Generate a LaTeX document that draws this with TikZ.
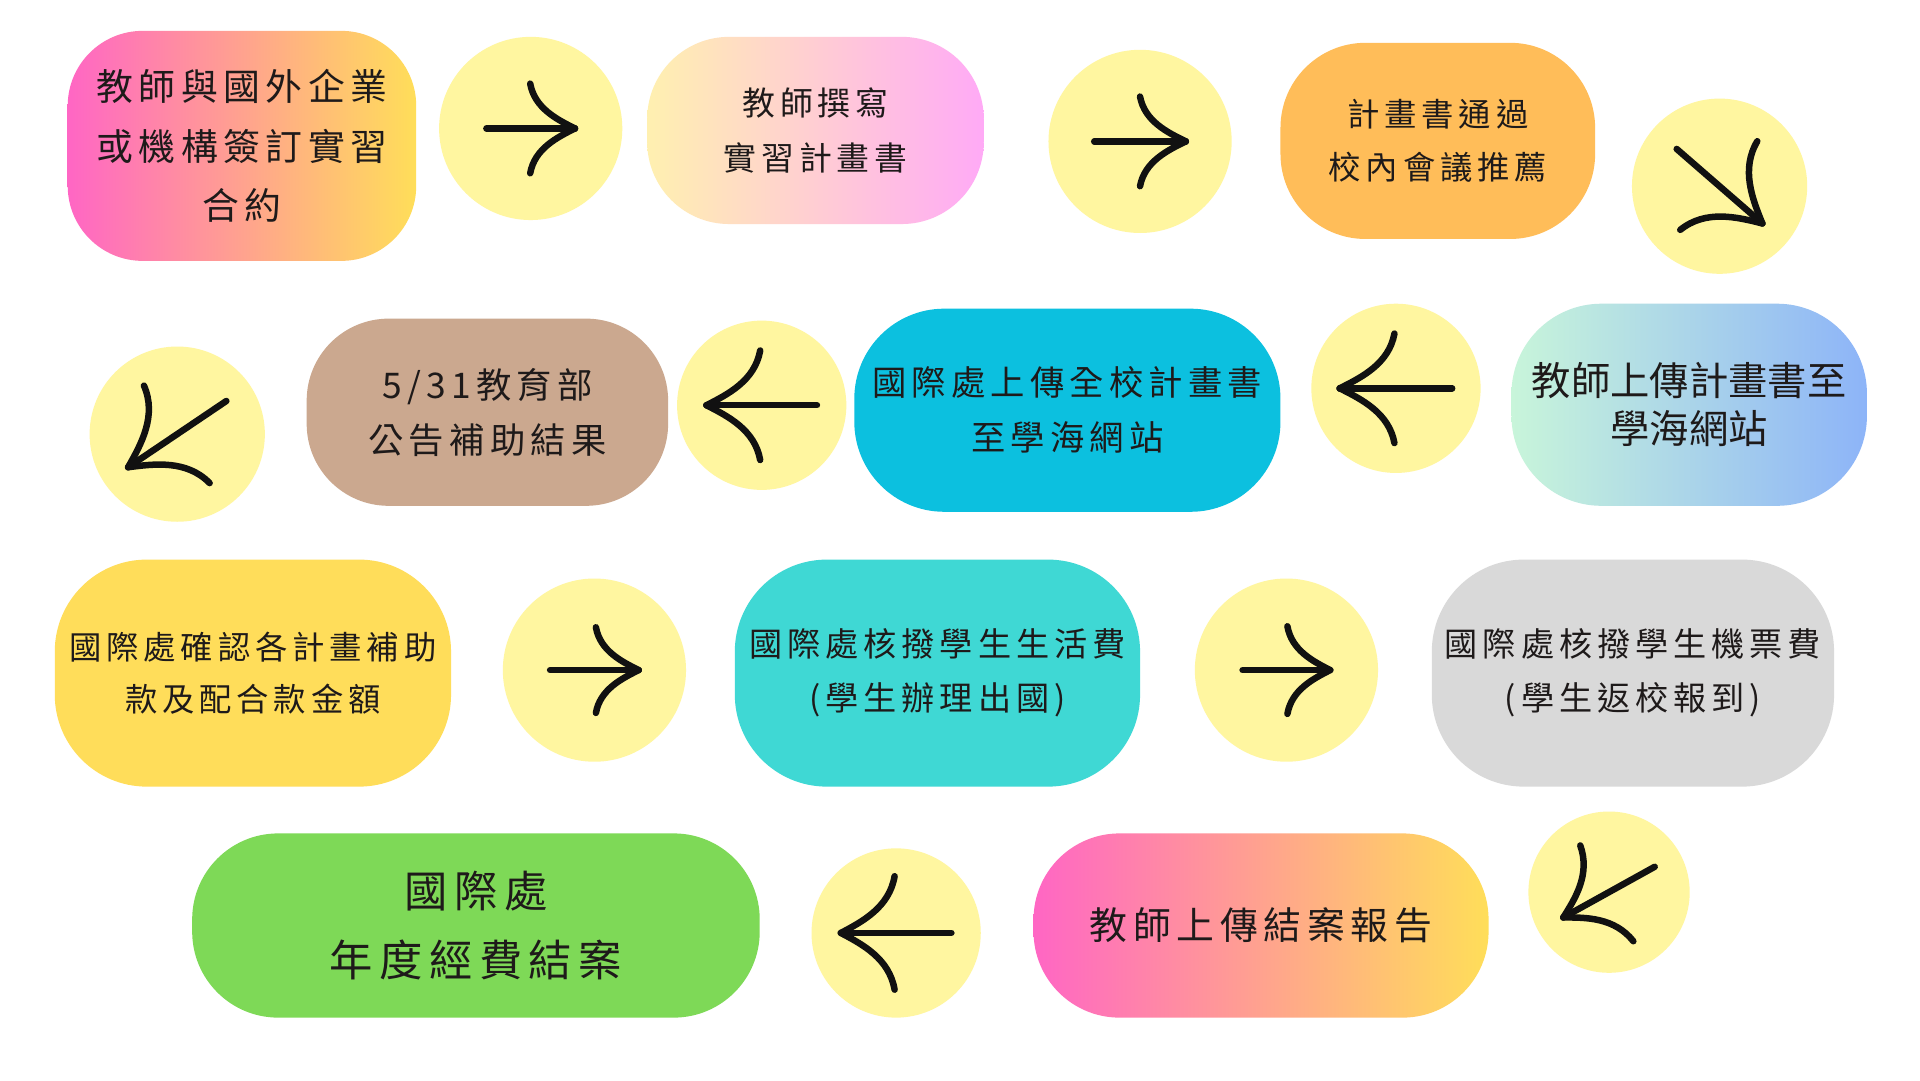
\documentclass[tikz,border=0pt]{standalone}
\usepackage{fontspec}
\setmainfont{Noto Sans CJK TC}
\newfontfamily\cjkls[LetterSpace=15]{Noto Sans CJK TC}
\newfontfamily\cjkplain{Noto Sans CJK TC}
\definecolor{textdark}{HTML}{1E1A1A}
\definecolor{circfill}{HTML}{FFF6A0}
\definecolor{arrowink}{HTML}{111111}
\definecolor{pinkA}{HTML}{FF66C4}
\definecolor{yellowA}{HTML}{FFDE59}
\definecolor{creamB}{HTML}{FFF0B0}
\definecolor{lilacB}{HTML}{FFAAF6}
\definecolor{mintC}{HTML}{C8F5DA}
\definecolor{blueC}{HTML}{8DB4F8}
\definecolor{orangeD}{HTML}{FFBD59}
\definecolor{tanE}{HTML}{CBA88F}
\definecolor{cyanF}{HTML}{0CC0DF}
\definecolor{yellowG}{HTML}{FFDD5A}
\definecolor{turqH}{HTML}{3FD8D4}
\definecolor{grayI}{HTML}{D9D9D9}
\definecolor{greenJ}{HTML}{7ED957}
\tikzset{
  flowbox/.style={draw=none, rounded corners=#1, inner sep=0pt, align=center, text=textdark},
  stepcircle/.style={circle, fill=circfill, draw=none, minimum size=#1, inner sep=0pt},
  arrowline/.style={draw=arrowink, line width=6.5pt, line cap=round, line join=round},
  pics/fwarrow/.style n args={3}{code={
    \draw[arrowline] ({-#1/2},0) -- ({#1/2},0);
    \draw[arrowline] ({#1/2-#2},{-#3}) .. controls ({#1/2-0.9*#2},{-0.45*#3}) and ({#1/2-0.4*#2},{-0.2*#3}) .. ({#1/2},0);
    \draw[arrowline] ({#1/2-#2},{#3}) .. controls ({#1/2-0.9*#2},{0.45*#3}) and ({#1/2-0.4*#2},{0.2*#3}) .. ({#1/2},0);
  }},
}
\begin{document}
\begin{tikzpicture}[x=1pt,y=-1pt]
\useasboundingbox (0,0) rectangle (1920,1080);
\fill[white] (0,0) rectangle (1920,1080);
\begin{scope}[scale=0.9957, transform shape]
% ---- boxes ----
\node[flowbox=75, minimum width=350, minimum height=231, left color=pinkA, right color=yellowA,
  font=\cjkls\fontsize{37}{60}\selectfont] (b1) at (243,146.5) {教師與國外企業\\或機構簽訂實習\\合約};
\node[flowbox=82, minimum width=338, minimum height=188, left color=creamB, right color=lilacB,
  font=\cjkls\fontsize{33}{56}\selectfont] (b2) at (819,131) {教師撰寫\\實習計畫書};
\node[flowbox=85, minimum width=316, minimum height=197, fill=orangeD,
  font=\cjkls\fontsize{32.5}{53}\selectfont] (b3) at (1444,141.5) {計畫書通過\\校內會議推薦};
\node[flowbox=82, minimum width=363, minimum height=188, fill=tanE,
  font=\cjkls\fontsize{35.5}{55}\selectfont] (b4) at (489.5,414) {5/31教育部\\公告補助結果};
\node[flowbox=90, minimum width=428, minimum height=204, fill=cyanF,
  font=\cjkls\fontsize{34.5}{55}\selectfont] (b5) at (1072,412) {國際處上傳全校計畫書\\至學海網站};
\node[flowbox=90, minimum width=357, minimum height=203, left color=mintC, right color=blueC,
  font=\cjkplain\fontsize{39.5}{48}\selectfont] (b6) at (1696.5,406.5) {教師上傳計畫書至\\學海網站};
\node[flowbox=92, minimum width=398, minimum height=228, fill=yellowG,
  font=\cjkls\fontsize{32.5}{52}\selectfont] (b7) at (254,676) {國際處確認各計畫補助\\款及配合款金額};
\node[flowbox=92, minimum width=407, minimum height=228, fill=turqH,
  font=\cjkls\fontsize{33.3}{54}\selectfont] (b8) at (941.5,676) {國際處核撥學生生活費\\(學生辦理出國)};
\node[flowbox=92, minimum width=404, minimum height=228, fill=grayI,
  font=\cjkls\fontsize{33.3}{54}\selectfont] (b9) at (1640,676) {國際處核撥學生機票費\\(學生返校報到)};
\node[flowbox=86, minimum width=457, minimum height=185, left color=pinkA, right color=yellowA,
  font=\cjkls\fontsize{38}{60}\selectfont] (b10) at (1266.5,929.5) {教師上傳結案報告};
\node[flowbox=86, minimum width=570, minimum height=185, fill=greenJ,
  font=\cjkls\fontsize{43.5}{69}\selectfont] (b11) at (478,929.5) {國際處\\年度經費結案};

% ---- circles ----
\node[stepcircle=184] (c1) at (533,129) {};
\node[stepcircle=184] (c2) at (1145,142) {};
\node[stepcircle=176] (c3) at (1727,187) {};
\node[stepcircle=176] (c4) at (178,436) {};
\node[stepcircle=170] (c5) at (765,407) {};
\node[stepcircle=170] (c6) at (1402,390) {};
\node[stepcircle=184] (c7) at (597,673) {};
\node[stepcircle=184] (c8) at (1292,673) {};
\node[stepcircle=162] (c9) at (1616,896) {};
\node[stepcircle=170] (c10) at (900,937) {};

% ---- arrow icons ----
\pic at (c1) {fwarrow={89}{45}{45}};
\pic at (c2) {fwarrow={92}{46}{45}};
\pic[rotate=-41] at (c3) {fwarrow={114}{58}{59}};
\pic[rotate=214] at (c4) {fwarrow={119}{59}{59}};
\pic[rotate=180] at (c5) {fwarrow={111}{54}{55}};
\pic[rotate=180] at (c6) {fwarrow={113}{55}{55}};
\pic at (c7) {fwarrow={89}{43}{43}};
\pic at (c8) {fwarrow={88}{43}{44}};
\pic[rotate=209] at (c9) {fwarrow={105}{50}{55}};
\pic[rotate=180] at (c10) {fwarrow={111}{54}{57}};
\end{scope}
\end{tikzpicture}
\end{document}
